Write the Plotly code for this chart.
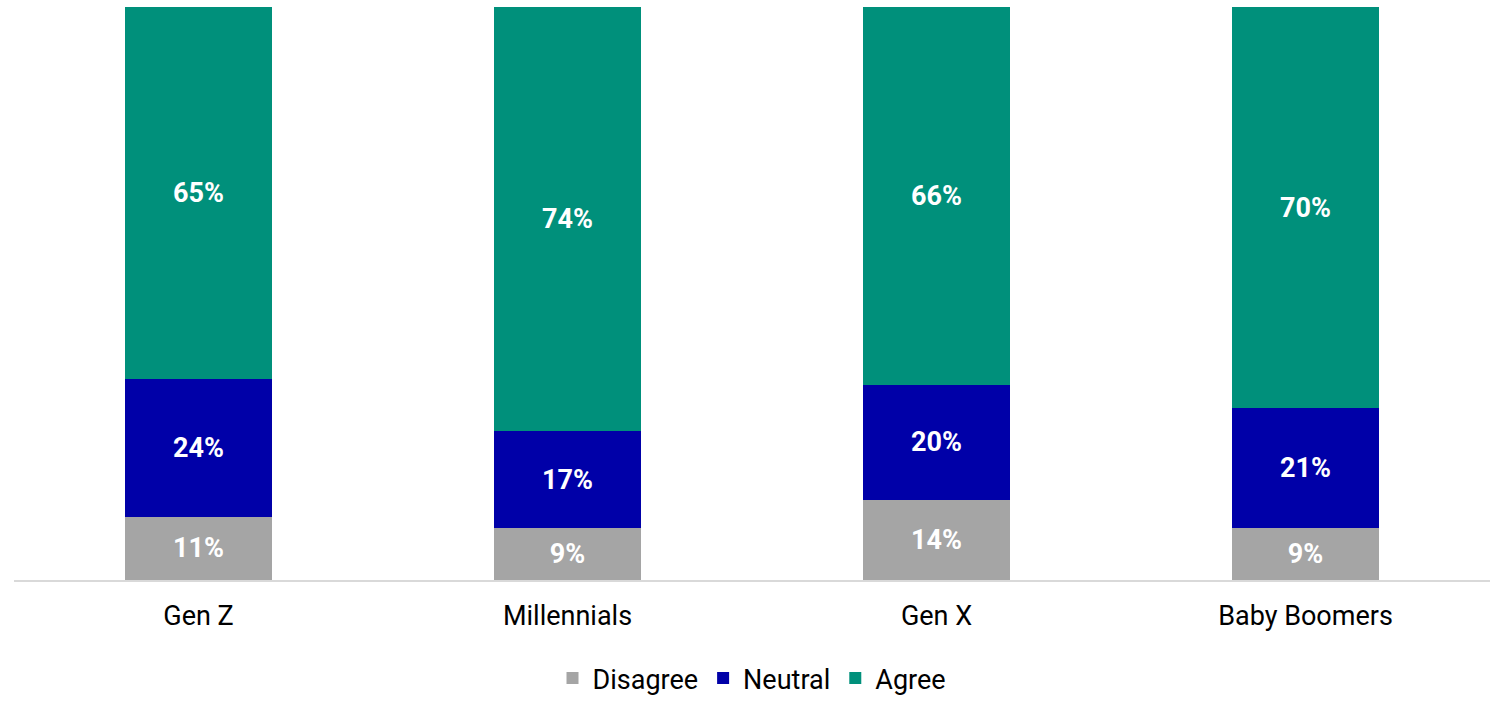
import plotly.graph_objects as go

categories = ["Gen Z", "Millennials", "Gen X", "Baby Boomers"]
disagree = [11, 9, 14, 9]
neutral = [24, 17, 20, 21]
agree = [65, 74, 66, 70]

series = [
    ("Disagree", disagree, "#A5A5A5"),
    ("Neutral", neutral, "#0000A8"),
    ("Agree", agree, "#00907B"),
]

FONT = "Roboto"
SIZE = 27

fig = go.Figure()
for name, vals, color in series:
    fig.add_trace(go.Bar(
        x=categories,
        y=vals,
        name=name,
        marker=dict(color=color, line=dict(width=0)),
        text=[f"{v}%" for v in vals],
        textposition="inside",
        insidetextanchor="middle",
        textangle=0,
        textfont=dict(family=FONT, size=SIZE, color="white", weight="bold"),
        constraintext="none",
    ))

fig.update_layout(
    barmode="stack",
    bargap=0.6,
    width=1496,
    height=702,
    margin=dict(l=14, r=6, t=7, b=122, autoexpand=False),
    plot_bgcolor="white",
    paper_bgcolor="white",
    font=dict(family=FONT, size=SIZE, color="#000000"),
    showlegend=True,
    legend=dict(
        orientation="h",
        x=0.5, xanchor="center",
        y=-0.172, yanchor="middle",
        font=dict(family=FONT, size=SIZE, color="#000000"),
        itemwidth=30,
        traceorder="normal",
    ),
    xaxis=dict(
        showline=True,
        linecolor="#D9D9D9",
        linewidth=2,
        ticks="",
        automargin=False,
        ticklabelstandoff=11,
        tickfont=dict(family=FONT, size=SIZE, color="#000000"),
    ),
    yaxis=dict(
        range=[0, 100],
        visible=False,
        showgrid=False,
        zeroline=False,
        automargin=False,
    ),
)

fig.write_html("out.html")
